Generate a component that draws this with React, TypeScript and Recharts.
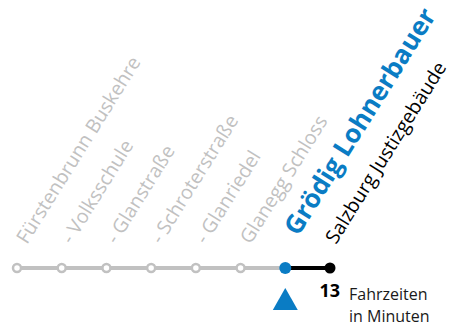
import React from "react";
import { LineChart, Line, XAxis, YAxis, LabelList, ReferenceDot } from "recharts";

const stations = [
  "Fürstenbrunn Buskehre",
  "- Volksschule",
  "- Glanstraße",
  "- Schroterstraße",
  "- Glanriedel",
  "Glanegg Schloss",
  "Grödig Lohnerbauer",
  "Salzburg Justizgebäude",
];
const grayValues = [0, 0, 0, 0, 0, 0, 0, null];
const blackValues = [null, null, null, null, null, null, 0, 0];
const currentIndex = 6;
const travelMinutes = 13;
const noteLines = ["Fahrzeiten", "in Minuten"];

const GRAY = "#c1c1c1";
const BLUE = "#0a7cc4";
const FONT = "'Open Sans', sans-serif";
const ANGLE = -58;

const data = stations.map((name, i) => ({
  idx: i,
  name,
  base: 0,
  gray: grayValues[i],
  black: blackValues[i],
}));

const GrayDot = (p: any) => {
  const { cx, cy, index } = p;
  if (cx == null || cy == null) return <g key={`g${index}`} />;
  if (index === currentIndex) return <g key={`g${index}`} />;
  return <circle key={`g${index}`} cx={cx} cy={cy} r={4} fill="#fff" stroke={GRAY} strokeWidth={2.5} />;
};

const BlackDot = (p: any) => {
  const { cx, cy, index } = p;
  if (cx == null || cy == null) return <g key={`b${index}`} />;
  if (index === currentIndex) return <circle key={`b${index}`} cx={cx} cy={cy} r={6} fill={BLUE} />;
  return <circle key={`b${index}`} cx={cx} cy={cy} r={5.5} fill="#000" />;
};

const StationLabel = (p: any) => {
  const { x, y, value, index } = p;
  if (x == null || y == null) return null;
  const isCur = index === currentIndex;
  const isLast = index === stations.length - 1;
  const ax = isCur ? x + 13 : isLast ? x + 6 : x + 10;
  const ay = isCur ? y - 31 : y - 23;
  return (
    <text
      x={ax}
      y={ay}
      transform={`rotate(${ANGLE}, ${ax}, ${ay})`}
      textAnchor="start"
      fontFamily={FONT}
      fontSize={isCur ? 26 : 19.5}
      fontWeight={isCur ? 700 : 400}
      fill={isCur ? BLUE : isLast ? "#000" : GRAY}
    >
      {value}
    </text>
  );
};

const Marker = (p: any) => {
  const { cx, cy } = p;
  return (
    <polygon
      points={`${cx},${cy + 20} ${cx - 12.5},${cy + 42} ${cx + 12.5},${cy + 42}`}
      fill={BLUE}
    />
  );
};

const Note = (p: any) => {
  const { cx, cy } = p;
  return (
    <g fontFamily={FONT}>
      <text x={cx + 10} y={cy + 29} textAnchor="end" fontSize={18} fontWeight={700} fill="#000">
        {travelMinutes}
      </text>
      <text x={cx + 19} y={cy + 32} fontSize={16} fill="#1a1a1a">
        {noteLines[0]}
      </text>
      <text x={cx + 19} y={cy + 54} fontSize={16} fill="#1a1a1a">
        {noteLines[1]}
      </text>
    </g>
  );
};

export default function App() {
  return (
    <div style={{ position: "absolute", left: 0, top: 0, width: 455, height: 329, background: "#fff" }}>
      <LineChart width={455} height={329} data={data} margin={{ top: 0, right: 125, left: 17, bottom: 61 }}>
        <XAxis dataKey="idx" type="number" domain={[0, 7]} hide />
        <YAxis type="number" domain={[0, 1]} hide />
        <Line dataKey="base" stroke="none" dot={false} activeDot={false} isAnimationActive={false}>
          <LabelList dataKey="name" content={StationLabel} />
        </Line>
        <Line dataKey="gray" stroke={GRAY} strokeWidth={4} dot={GrayDot} activeDot={false} isAnimationActive={false} connectNulls={false} />
        <Line dataKey="black" stroke="#000" strokeWidth={4} dot={BlackDot} activeDot={false} isAnimationActive={false} connectNulls={false} />
        <ReferenceDot x={currentIndex} y={0} shape={Marker} />
        <ReferenceDot x={stations.length - 1} y={0} shape={Note} />
      </LineChart>
    </div>
  );
}
